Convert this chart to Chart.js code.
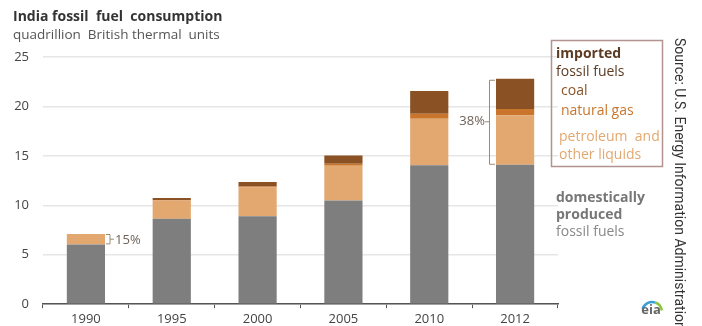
<!DOCTYPE html>
<html>
<head>
<meta charset="utf-8">
<script src="https://cdn.jsdelivr.net/npm/chart.js@4"></script>
<style>
  html, body { margin: 0; padding: 0; background: #fff; }
  #wrap { width: 702px; height: 326px; position: relative; }
</style>
</head>
<body>
<div id="wrap"><canvas id="fuelChart" width="702" height="326"></canvas></div>
<script>
const years = ['1990', '1995', '2000', '2005', '2010', '2012'];
const domestic = [6.05, 8.65, 8.9, 10.5, 14.05, 14.1];
const petroleum = [1.05, 1.85, 2.9, 3.5, 4.7, 5.0];
const naturalGas = [0, 0.05, 0.1, 0.2, 0.5, 0.65];
const coal = [0, 0.2, 0.45, 0.85, 2.3, 3.05];
const yTicks = [0, 5, 10, 15, 20, 25];

const colors = {
    domestic: '#7e7e7e',
    petroleum: '#e2a870',
    gas: '#c9762c',
    coal: '#8a5224'
};

const FONT = '"Open Sans", "Liberation Sans", sans-serif';

// share of imports in total, for the brackets
function importShare(i) {
    const imp = petroleum[i] + naturalGas[i] + coal[i];
    return Math.round(100 * imp / (imp + domestic[i]));
}

const annotations = {
    id: 'annotations',
    afterDraw(chart) {
        const c = chart.ctx;
        const y = chart.scales.y;
        const meta = chart.getDatasetMeta(0);
        c.save();

        // title
        c.textBaseline = 'middle';
        c.textAlign = 'left';
        c.fillStyle = '#333';
        c.font = 'bold 14px ' + FONT;
        c.fillText('India fossil  fuel  consumption', 13, 17);
        c.fillStyle = '#555';
        c.font = '13.5px ' + FONT;
        c.fillText('quadrillion  British thermal  units', 13, 35);

        // 1990 bracket, right of the bar
        const b0 = meta.data[0];
        const top0 = y.getPixelForValue(domestic[0] + petroleum[0] + naturalGas[0] + coal[0]);
        const bot0 = y.getPixelForValue(domestic[0]);
        const bx0 = b0.x + b0.width / 2 + 1;
        c.strokeStyle = '#9c8a78';
        c.lineWidth = 1;
        c.beginPath();
        c.moveTo(bx0, top0 + 0.5);
        c.lineTo(bx0 + 4, top0 + 0.5);
        c.lineTo(bx0 + 4, bot0 - 0.5);
        c.lineTo(bx0, bot0 - 0.5);
        c.moveTo(bx0 + 4, (top0 + bot0) / 2);
        c.lineTo(bx0 + 8, (top0 + bot0) / 2);
        c.stroke();
        c.fillStyle = '#6e6258';
        c.font = '13px ' + FONT;
        c.fillText(importShare(0) + '%', bx0 + 9, (top0 + bot0) / 2 + 1);

        // 2012 bracket, left of the bar
        const last = years.length - 1;
        const b5 = meta.data[last];
        const top5 = y.getPixelForValue(domestic[last] + petroleum[last] + naturalGas[last] + coal[last]);
        const bot5 = y.getPixelForValue(domestic[last]);
        const bx5 = b5.x - b5.width / 2 - 7;
        c.beginPath();
        c.moveTo(bx5 + 6, top5 + 1.5);
        c.lineTo(bx5 + 0.5, top5 + 1.5);
        c.lineTo(bx5 + 0.5, bot5 - 0.5);
        c.lineTo(bx5 + 6, bot5 - 0.5);
        c.moveTo(bx5 + 0.5, (top5 + bot5) / 2);
        c.lineTo(bx5 - 4, (top5 + bot5) / 2);
        c.stroke();
        c.textAlign = 'right';
        c.fillText(importShare(last) + '%', bx5 - 4, (top5 + bot5) / 2);

        // legend box for imports
        c.strokeStyle = '#b3928f';
        c.lineWidth = 1.5;
        c.strokeRect(551.5, 40.5, 111, 126);

        c.textAlign = 'left';
        c.font = 'bold 14px ' + FONT;
        c.fillStyle = '#5c3b22';
        c.fillText('imported', 556, 54);
        c.font = '14px ' + FONT;
        c.fillText('fossil fuels', 556, 72);
        c.fillStyle = colors.coal;
        c.fillText('coal', 561, 91);
        c.fillStyle = colors.gas;
        c.fillText('natural gas', 561, 111);
        c.fillStyle = colors.petroleum;
        c.fillText('petroleum  and', 559, 137);
        c.fillText('other liquids', 559, 155);

        c.fillStyle = '#777';
        c.font = 'bold 14px ' + FONT;
        c.fillText('domestically', 556, 198);
        c.fillText('produced', 556, 215);
        c.font = '14px ' + FONT;
        c.fillStyle = '#888';
        c.fillText('fossil fuels', 556, 232);

        // source, rotated
        c.save();
        c.translate(678, 38);
        c.rotate(Math.PI / 2);
        c.fillStyle = '#333';
        c.font = '14px Roboto, sans-serif';
        c.textAlign = 'left';
        c.fillText('Source: U.S. Energy Information Administration', 0, 0);
        c.restore();

        // eia mark
        c.lineWidth = 2.5;
        c.strokeStyle = '#3aa0d8';
        c.beginPath();
        c.arc(652, 312, 10, Math.PI * 1.1, Math.PI * 1.6);
        c.stroke();
        c.strokeStyle = '#8cc63f';
        c.beginPath();
        c.arc(652, 312, 10, Math.PI * 1.6, Math.PI * 1.95);
        c.stroke();
        c.fillStyle = '#666';
        c.font = 'bold 13px ' + FONT;
        c.textAlign = 'center';
        c.fillText('eia', 651, 310);

        c.restore();
    }
};

function bar(label, data, color) {
    return {
        label: label,
        data: data,
        backgroundColor: color,
        borderWidth: 0,
        categoryPercentage: 1,
        barPercentage: 0.445
    };
}

new Chart(document.getElementById('fuelChart'), {
    type: 'bar',
    data: {
        labels: years,
        datasets: [
            bar('domestically produced fossil fuels', domestic, colors.domestic),
            bar('petroleum and other liquids', petroleum, colors.petroleum),
            bar('natural gas', naturalGas, colors.gas),
            bar('coal', coal, colors.coal)
        ]
    },
    options: {
        responsive: false,
        animation: false,
        layout: {
            padding: { top: 57, right: 144, bottom: 0, left: 0 }
        },
        plugins: {
            legend: { display: false },
            tooltip: { enabled: false }
        },
        scales: {
            x: {
                stacked: true,
                afterFit: s => { s.height = 21; },
                grid: {
                    offset: true,
                    drawOnChartArea: false,
                    drawTicks: true,
                    tickLength: 4,
                    color: '#555'
                },
                border: { color: '#555', width: 1.5 },
                ticks: {
                    color: '#444',
                    padding: 3,
                    font: { family: FONT, size: 13 }
                }
            },
            y: {
                stacked: true,
                min: 0,
                max: 25,
                afterFit: s => { s.width = 43; },
                afterBuildTicks: s => { s.ticks = yTicks.map(v => ({ value: v })); },
                grid: {
                    color: '#e6e6e6',
                    drawTicks: false,
                    lineWidth: 1.5
                },
                border: { display: false },
                ticks: {
                    color: '#444',
                    padding: 14,
                    font: { family: FONT, size: 13 }
                }
            }
        }
    },
    plugins: [annotations]
});
</script>
</body>
</html>
